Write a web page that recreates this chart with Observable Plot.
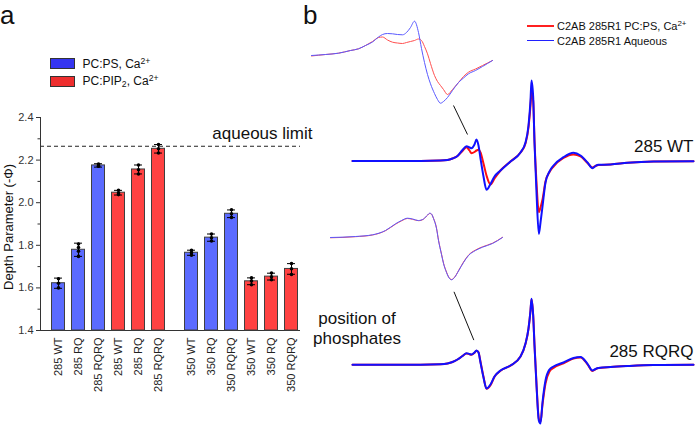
<!DOCTYPE html>
<html><head><meta charset="utf-8">
<script src="https://cdn.jsdelivr.net/npm/d3@7"></script>
<script src="https://cdn.jsdelivr.net/npm/@observablehq/plot@0.6"></script>
<style>
html,body{margin:0;padding:0;background:#fff;}
#fig{position:relative;width:697px;height:426px;overflow:hidden;font-family:"Liberation Sans",Arial,Helvetica,sans-serif;color:#111;background:#fff;}
.lab{position:absolute;white-space:nowrap;line-height:1;}
.panel{position:absolute;white-space:nowrap;line-height:normal;font-size:26px;top:0px;}
.sw{position:absolute;}
sup{font-size:0.72em;vertical-align:0.45em;line-height:0;}
sub{font-size:0.72em;vertical-align:-0.25em;line-height:0;}
</style></head>
<body>
<div id="fig">
  <div class="panel" style="left:0px;">a</div>
  <div class="panel" style="left:303px;">b</div>
  <div class="sw" style="left:50px;top:58px;width:23px;height:8.5px;background:#3535f0;border:0.5px solid #333;"></div>
  <div class="lab" style="left:82.5px;top:57.8px;font-size:12px;">PC:PS, Ca<sup>2+</sup></div>
  <div class="sw" style="left:50px;top:76px;width:23px;height:8.5px;background:#ee2e2e;border:0.5px solid #333;"></div>
  <div class="lab" style="left:82.5px;top:74.8px;font-size:12px;">PC:PIP<sub>2</sub>, Ca<sup>2+</sup></div>
  <div class="sw" style="left:527px;top:25.3px;width:27px;height:1.4px;background:#ff2020;"></div>
  <div class="lab" style="left:557px;top:21px;font-size:11px;">C2AB 285R1 PC:PS, Ca<sup>2+</sup></div>
  <div class="sw" style="left:527px;top:40px;width:27px;height:1.4px;background:#2020ff;"></div>
  <div class="lab" style="left:557px;top:35.5px;font-size:11px;">C2AB 285R1 Aqueous</div>
  <div class="lab" style="left:307px;top:309px;width:100px;text-align:center;font-size:17px;line-height:20px;">position of<br>phosphates</div>
</div>
<script>
// ---------- Panel a data ----------
const mutants = ["285 WT","285 RQ","285 RQRQ","285 WT","285 RQ","285 RQRQ","350 WT","350 RQ","350 RQRQ","350 WT","350 RQ","350 RQRQ"];
const lipids = ["PC:PS","PC:PS","PC:PS","PC:PIP2","PC:PIP2","PC:PIP2","PC:PS","PC:PS","PC:PS","PC:PIP2","PC:PIP2","PC:PIP2"];
const depth = [1.622, 1.779, 2.175, 2.047, 2.156, 2.253, 1.765, 1.836, 1.948, 1.631, 1.653, 1.689];
const depthErr = [0.024, 0.031, 0.008, 0.011, 0.021, 0.020, 0.012, 0.017, 0.018, 0.016, 0.016, 0.025];
const replicates = [
  [1.643, 1.600, 1.622], [1.806, 1.790, 1.772, 1.748], [2.182, 2.171, 2.172],
  [2.058, 2.045, 2.038], [2.177, 2.155, 2.135], [2.273, 2.253, 2.233],
  [1.776, 1.765, 1.753], [1.853, 1.835, 1.820], [1.967, 1.948, 1.931],
  [1.647, 1.632, 1.615], [1.670, 1.652, 1.638], [1.714, 1.690, 1.663]
];
const aqueousLimit = 2.265;
const yTicks = [1.4, 1.6, 1.8, 2.0, 2.2, 2.4];
const yMinorTicks = [1.5, 1.7, 1.9, 2.1, 2.3];
const lipidNames = ["PC:PS", "PC:PIP2"];
const lipidColors = ["#5b6bff", "#ff4242"];
const sites = ["285", "350"];

// ---------- Panel b data (field in G, intensity in a.u.) ----------
const fieldMain = [3320.0, 3334.4, 3346.4, 3348.5, 3350.0, 3351.5, 3353.0, 3354.2, 3355.1, 3355.7, 3356.6, 3357.2, 3357.8, 3358.4, 3359.3, 3360.2, 3361.4, 3362.6, 3364.4, 3367.4, 3370.4, 3371.9, 3372.8, 3373.4, 3373.7, 3374.2, 3374.6, 3375.2, 3375.9, 3376.4, 3377.0, 3377.9, 3379.1, 3380.3, 3383.3, 3386.3, 3388.4, 3390.5, 3392.0, 3392.9, 3393.8, 3397.4, 3402.5, 3410.3, 3422.3];
const wtAqueous = [0, 0, 0.05, 0.1, 0.25, 0.5, 1.1, 1.48, 1.35, 1.28, 1.65, 2.15, 1.55, 0.25, -1.55, -2.88, -2.3, -1.55, -0.95, -0.05, 0.85, 1.85, 3.55, 6.05, 8.05, 6.45, 1.85, -3.15, -7.28, -6.15, -4.55, -2.15, -1.05, -0.45, 0.38, 0.82, 0.55, -0.15, -0.72, -0.5, -0.38, -0.35, -0.18, -0.05, -0.02];
const wtMembrane = [0, 0, 0.05, 0.1, 0.25, 0.5, 1.0, 1.38, 1.05, 0.78, 0.9, 1.05, 1.12, 0.85, -0.25, -1.45, -2.35, -1.75, -0.95, -0.05, 0.85, 1.75, 3.35, 5.55, 6.88, 6.05, 2.05, -2.15, -5.12, -4.65, -3.85, -2.05, -1.1, -0.55, 0.3, 0.65, 0.45, -0.2, -0.65, -0.5, -0.4, -0.35, -0.18, -0.05, -0.02];
const rqrqAqueous = [0, 0, 0.05, 0.13, 0.28, 0.53, 0.88, 1.16, 1.08, 1.03, 1.23, 1.43, 1.23, 0.23, -1.27, -2.37, -1.97, -1.17, -0.57, -0.07, 0.83, 2.13, 3.63, 5.43, 6.6, 4.93, 1.93, -2.07, -5.57, -5.87, -3.77, -1.57, -0.47, -0.17, 0.23, 0.68, 0.78, 0.1, -0.57, -0.42, -0.32, -0.22, -0.12, -0.02, 0];
const rqrqMembrane = [0, 0, 0.05, 0.13, 0.28, 0.53, 0.88, 1.14, 1.05, 1.0, 1.2, 1.4, 1.25, 0.3, -1.2, -2.4, -2.05, -1.2, -0.6, -0.08, 0.82, 2.1, 3.6, 5.4, 6.55, 5.0, 2.0, -1.9, -5.4, -5.7, -3.97, -1.87, -0.67, -0.32, 0.15, 0.62, 0.72, 0.05, -0.62, -0.45, -0.33, -0.22, -0.12, -0.02, 0];

const fieldInsetWt = [3345.00, 3346.68, 3348.24, 3349.68, 3350.64, 3351.48, 3352.32, 3353.04, 3353.52, 3354.12, 3354.72, 3355.32, 3355.92, 3356.40, 3356.88, 3357.36, 3357.84, 3358.20, 3358.56, 3358.92, 3359.28, 3359.76, 3360.12, 3360.48, 3360.84, 3361.32, 3361.92, 3362.64, 3363.24, 3363.84, 3364.68, 3365.52, 3366.72];
const insetWtAqueous = [0, 0.1, 0.23, 0.5, 0.67, 1.0, 1.35, 1.85, 2.1, 2.2, 2.17, 2.1, 2.07, 2.3, 2.8, 3.43, 2.3, 0.7, -0.7, -1.9, -2.83, -3.8, -4.4, -4.77, -4.6, -4.2, -3.5, -2.7, -2.25, -1.83, -1.5, -1.1, -0.5];
const insetWtMembrane = [-0.05, 0.1, 0.23, 0.5, 0.67, 1.0, 1.4, 1.8, 1.85, 1.55, 1.33, 1.25, 1.2, 1.3, 1.4, 1.5, 1.65, 1.5, 0.9, 0.17, -0.8, -2.0, -2.6, -3.0, -3.4, -3.9, -3.4, -2.7, -2.1, -1.67, -1.35, -1.0, -0.5];

const fieldInsetRqrq = [3343.00, 3346.50, 3348.88, 3350.70, 3352.10, 3352.94, 3353.78, 3354.48, 3355.32, 3356.02, 3356.58, 3356.90, 3357.14, 3357.42, 3357.84, 3358.12, 3358.54, 3358.82, 3359.24, 3359.52, 3359.94, 3360.36, 3360.92, 3361.62, 3362.32, 3363.30, 3364.28, 3365.68, 3367.08];
const insetRqrqAqueous = [0, 0.1, 0.27, 0.7, 1.37, 1.7, 1.93, 1.85, 1.7, 1.85, 2.25, 2.43, 2.35, 1.9, 0.9, -0.3, -1.7, -2.6, -3.5, -3.95, -4.23, -4.0, -3.35, -2.5, -1.8, -1.3, -0.97, -0.6, 0];
const insetRqrqMembrane = [-0.03, 0.08, 0.25, 0.68, 1.33, 1.66, 1.9, 1.82, 1.68, 1.83, 2.22, 2.4, 2.33, 1.92, 0.95, -0.25, -1.65, -2.55, -3.45, -3.92, -4.2, -3.98, -3.32, -2.45, -1.76, -1.25, -0.93, -0.57, 0.02];

const spectrumLabels = ["285 WT", "285 RQRQ"];
const spectrumLabelLevel = [0.95, 0.83];
const pointerWt = [{x1: 3350.3, y1: 5.55, x2: 3354.5, y2: 2.65}];
const pointerRqrq = [{x1: 3350.45, y1: 7.3, x2: 3356.4, y2: 2.47}];
const mainColors = {membrane: "#ff1010", aqueous: "#1010ff"};
const insetColors = {membrane: "#ff5050", aqueous: "#5a5aff"};

// ---------- helpers ----------
const font = '"Liberation Sans", Arial, Helvetica, sans-serif';
const fig = document.getElementById("fig");
function place(svg) {
  svg.style.position = "absolute";
  svg.style.left = "0px";
  svg.style.top = "0px";
  svg.style.overflow = "visible";
  svg.style.background = "transparent";
  svg.style.maxWidth = "none";
  fig.appendChild(svg);
}
const rows = (field, vals) => field.map((f, j) => ({field: f, I: vals[j]}));

// ---------- Panel a: axes layer ----------
const yDomain = [yTicks[0], yTicks[yTicks.length - 1]];
const aW = 300, H = 426;
const aMargins = {marginLeft: 40, marginRight: 0, marginTop: 117, marginBottom: 96};
place(Plot.plot({
  width: aW, height: H, ...aMargins,
  style: {fontFamily: font},
  x: {domain: [0, 1], axis: null},
  y: {domain: yDomain, axis: null},
  marks: [
    Plot.ruleY([aqueousLimit], {stroke: "#222", strokeDasharray: "4,3", strokeWidth: 1}),
    Plot.text(["aqueous limit"], {x: 1, y: aqueousLimit, textAnchor: "end", lineAnchor: "bottom", dx: 12, dy: -7, fontSize: 17, fill: "#111"}),
    Plot.ruleX([0], {y1: yDomain[0], y2: yDomain[1], stroke: "#333"}),
    Plot.ruleY([yDomain[0]], {stroke: "#333"}),
    Plot.axisY({ticks: yTicks, tickSize: 4, tickPadding: 3, tickFormat: d3.format(".1f"), fontSize: 11, label: null, color: "#333"}),
    Plot.axisY({ticks: yMinorTicks, tickSize: 2.5, tickFormat: () => "", label: null, color: "#333"}),
    Plot.text(["Depth Parameter (-\u03A6)"], {frameAnchor: "left", textAnchor: "middle", lineAnchor: "middle", rotate: -90, dx: -32, dy: 3, fontSize: 13, fill: "#111"})
  ]
}));

// ---------- Panel a: bars layer ----------
const bars = mutants.map((label, i) => ({i, label, site: label.split(" ")[0], lipid: lipids[i], depth: depth[i], err: depthErr[i]}));
const reps = replicates.flatMap((vals, i) => vals.map(v => ({i, v, site: bars[i].site})));
const groupGap = 13;
const barMarks = sites.flatMap((s, k) => {
  const dx = (k === 0 ? -1 : 1) * groupGap / 2;
  const f = d => d.site === s;
  return [
    Plot.barY(bars, {filter: f, x: "i", y1: yDomain[0], y2: "depth", fill: "lipid", stroke: "#404040", strokeWidth: 1, dx}),
    Plot.ruleX(bars, {filter: f, x: "i", y1: d => d.depth - d.err, y2: d => d.depth + d.err, stroke: "#000", dx}),
    Plot.tickY(bars, {filter: f, x: "i", y: d => d.depth + d.err, inset: 2.5, stroke: "#000", dx}),
    Plot.tickY(bars, {filter: f, x: "i", y: d => d.depth - d.err, inset: 2.5, stroke: "#000", dx}),
    Plot.dot(reps, {filter: f, x: "i", y: "v", r: 1.8, fill: "#000", stroke: "none", dx}),
    Plot.text(bars, {filter: f, x: "i", text: "label", frameAnchor: "bottom", rotate: -90, textAnchor: "end", lineAnchor: "middle", dy: 7, fontSize: 11, fill: "#222", dx})
  ];
});
place(Plot.plot({
  width: aW, height: H, ...aMargins,
  style: {fontFamily: font},
  x: {type: "band", domain: d3.range(mutants.length), range: [58, 291], paddingInner: 0.35, paddingOuter: 0, axis: null},
  y: {domain: yDomain, axis: null},
  color: {domain: lipidNames, range: lipidColors},
  marks: barMarks
}));

// ---------- Panel b: spectra ----------
function spectrum({field, membrane, aqueous, yDom, margins, colors, width, extra = []}) {
  place(Plot.plot({
    width: 697, height: H, ...margins,
    style: {fontFamily: font},
    x: {domain: [field[0], field[field.length - 1]], axis: null},
    y: {domain: yDom, axis: null},
    marks: [
      ...extra,
      Plot.line(rows(field, membrane), {x: "field", y: "I", stroke: colors.membrane, strokeWidth: width, curve: "monotone-x"}),
      Plot.line(rows(field, aqueous), {x: "field", y: "I", stroke: colors.aqueous, strokeWidth: width, curve: "monotone-x"})
    ]
  }));
}
const xEnd = fieldMain[fieldMain.length - 1];
spectrum({field: fieldMain, membrane: wtMembrane, aqueous: wtAqueous, yDom: [-10, 10],
  margins: {marginLeft: 352, marginRight: 4, marginTop: 60.5, marginBottom: 165.5},
  colors: mainColors, width: 2,
  extra: [
    Plot.link(pointerWt, {x1: "x1", y1: "y1", x2: "x2", y2: "y2", stroke: "#111", strokeWidth: 1}),
    Plot.text([spectrumLabels[0]], {x: xEnd, y: spectrumLabelLevel[0], textAnchor: "end", lineAnchor: "bottom", fontSize: 17, fill: "#111"})
  ]});
spectrum({field: fieldMain, membrane: rqrqMembrane, aqueous: rqrqAqueous, yDom: [-6, 8],
  margins: {marginLeft: 352, marginRight: 4, marginTop: 284.3, marginBottom: 1.7},
  colors: mainColors, width: 2,
  extra: [
    Plot.link(pointerRqrq, {x1: "x1", y1: "y1", x2: "x2", y2: "y2", stroke: "#111", strokeWidth: 1}),
    Plot.text([spectrumLabels[1]], {x: xEnd, y: spectrumLabelLevel[1], textAnchor: "end", lineAnchor: "bottom", fontSize: 17, fill: "#111"})
  ]});
spectrum({field: fieldInsetWt, membrane: insetWtMembrane, aqueous: insetWtAqueous, yDom: [-5, 4],
  margins: {marginLeft: 311, marginRight: 205, marginTop: 15, marginBottom: 321},
  colors: insetColors, width: 1});
spectrum({field: fieldInsetRqrq, membrane: insetRqrqMembrane, aqueous: insetRqrqAqueous, yDom: [-5, 3],
  margins: {marginLeft: 330, marginRight: 195, marginTop: 207, marginBottom: 139},
  colors: insetColors, width: 1});
</script>
</body></html>
